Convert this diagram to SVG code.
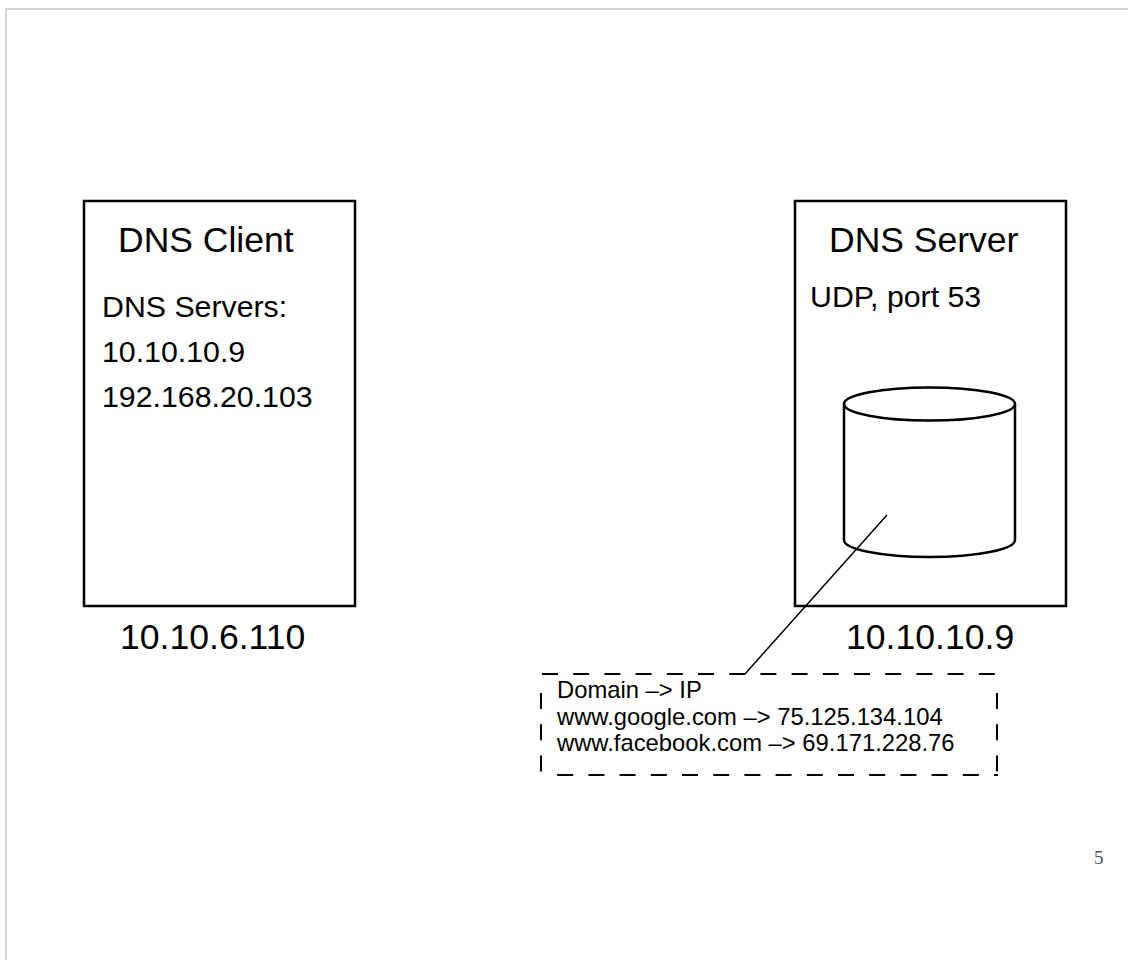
<svg xmlns="http://www.w3.org/2000/svg" width="1128" height="960" viewBox="0 0 1128 960">
  <style>
    .box { fill: none; stroke: #000; stroke-width: 2.5; }
    .title { font-family: "Liberation Sans", Arial, sans-serif; font-size: 35.5px; fill: #000; }
    .body { font-family: "Liberation Sans", Arial, sans-serif; font-size: 30.3px; fill: #000; }
    .addr { font-family: "Liberation Sans", Arial, sans-serif; font-size: 35.6px; fill: #000; }
    .note { font-family: "Liberation Sans", Arial, sans-serif; font-size: 23.8px; fill: #000; }
    .dash { stroke: #000; stroke-width: 2; stroke-dasharray: 16 15.2; fill: none; }
    .page { font-family: "Liberation Serif", "Times New Roman", serif; font-size: 19px; fill: #555; }
  </style>
  <rect width="1128" height="960" fill="#fff"/>
  <!-- page frame -->
  <path d="M6 960 V9 H1128" fill="none" stroke="#c8c8c8" stroke-width="1.5"/>

  <g id="dns-client">
    <rect class="box" x="84" y="201" width="271" height="405"/>
    <text class="title" x="118" y="252">DNS Client</text>
    <text class="body" x="102" y="317">DNS Servers:</text>
    <text class="body" x="102" y="362">10.10.10.9</text>
    <text class="body" x="102" y="407">192.168.20.103</text>
    <text class="addr" x="120" y="649">10.10.6.110</text>
  </g>

  <g id="dns-server">
    <rect class="box" x="795" y="201" width="271" height="405"/>
    <text class="title" x="829" y="252">DNS Server</text>
    <text class="body" x="810" y="307">UDP, port 53</text>
    <text class="addr" x="846" y="649">10.10.10.9</text>
  </g>

  <g id="database">
    <ellipse class="box" cx="929.5" cy="404" rx="85.5" ry="16.5"/>
    <path class="box" d="M844 404 V540 A85.5 17 0 0 0 1015 540 V404"/>
  </g>

  <g id="connectors">
    <line x1="887" y1="515" x2="745" y2="674" stroke="#000" stroke-width="1.5"/>
  </g>

  <g id="dns-table">
    <line class="dash" x1="542" y1="674" x2="998" y2="674"/>
    <line class="dash" x1="542" y1="775" x2="998" y2="775" stroke-dashoffset="16"/>
    <line class="dash" x1="541" y1="693" x2="541" y2="776" stroke-dasharray="15 18"/>
    <line class="dash" x1="997" y1="693" x2="997" y2="776" stroke-dasharray="15 18"/>
    <text class="note" x="557" y="698">Domain –&gt; IP</text>
    <text class="note" x="557" y="725">www.google.com –&gt; 75.125.134.104</text>
    <text class="note" x="557" y="751">www.facebook.com –&gt; 69.171.228.76</text>
  </g>

  <text class="page" x="1094" y="864">5</text>
</svg>
